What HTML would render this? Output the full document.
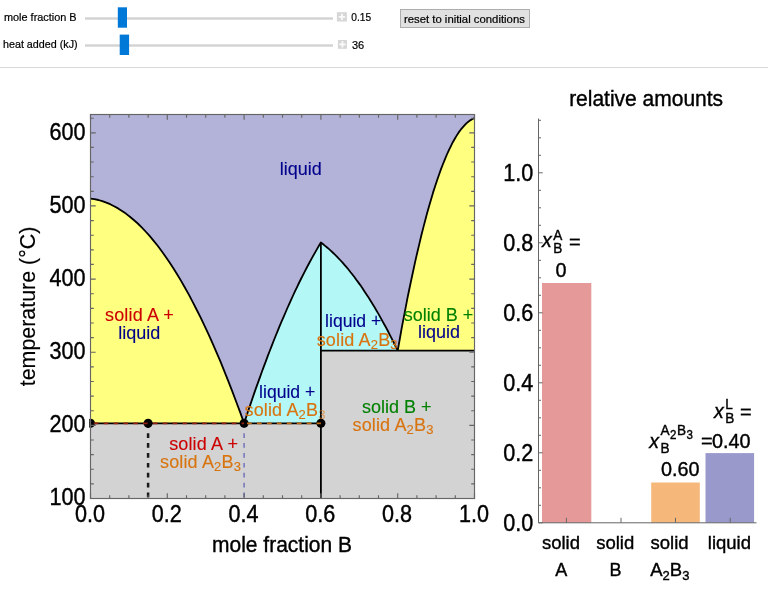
<!DOCTYPE html>
<html><head><meta charset="utf-8"><title>phase diagram</title>
<style>
html,body{margin:0;padding:0;background:#fff;}
body{width:768px;height:589px;position:relative;overflow:hidden;font-family:"Liberation Sans",sans-serif;}
.lbl{position:absolute;font-size:10.9px;color:#000;white-space:nowrap;line-height:12px;transform:scaleY(1.08);transform-origin:0 9.5px;-webkit-text-stroke:.2px #000;}
.track{position:absolute;height:3px;background:linear-gradient(#e9e9e9,#d2d2d2 45%,#d2d2d2 55%,#e9e9e9);left:84.5px;width:248px;}
.plus{position:absolute;width:9px;height:9px;background:#d9d9d9;left:337.5px;}
.plus:before{content:"";position:absolute;left:3.7px;top:1.5px;width:1.6px;height:6px;background:#fff;opacity:.9;}
.plus:after{content:"";position:absolute;left:1.5px;top:3.7px;width:6px;height:1.6px;background:#fff;opacity:.9;}
.btn{position:absolute;left:400px;top:9px;width:127.6px;height:16.5px;background:#e1e1e1;border:1px solid #adadad;font-size:11.35px;line-height:18.6px;text-align:center;color:#000;white-space:nowrap;-webkit-text-stroke:.2px #000;}
.sep{position:absolute;left:0;top:67px;width:768px;height:1px;background:#d9d9d9;}
</style></head><body>
<div class="track" style="top:16.8px"></div>
<div class="track" style="top:43.6px"></div>
<div class="btn"></div>
<div class="sep"></div>
<svg width="768" height="589" viewBox="0 0 768 589" style="position:absolute;left:0;top:0" font-family="Liberation Sans, sans-serif">
<style>text{stroke:#000;stroke-width:.38px}.cr,.cb,.co,.cg{stroke-width:.12px}.ui{stroke-width:.2px}.cr{fill:#c00;stroke:#c00}.cb{fill:#00008c;stroke:#00008c}.co{fill:#d9730d;stroke:#d9730d}.cg{fill:#008000;stroke:#008000}</style>
<rect x="90.5" y="114.5" width="384.0" height="384.0" fill="#b3b3d9"/>
<polygon fill="#ffff80" points="90.5,198.6 94.4,199.2 98.4,200.0 102.3,201.2 106.3,202.6 110.2,204.2 114.1,206.2 118.1,208.4 122.0,210.9 125.9,213.6 129.9,216.7 133.8,220.0 137.8,223.5 141.7,227.4 145.6,231.5 149.6,235.9 153.5,240.6 157.5,245.5 161.4,250.7 165.3,256.2 169.3,262.0 173.2,268.0 177.1,274.3 181.1,280.9 185.0,287.8 189.0,294.9 192.9,302.3 196.8,310.0 200.8,317.9 204.7,326.1 208.7,334.6 212.6,343.4 216.5,352.4 220.5,361.7 224.4,371.3 228.3,381.2 232.3,391.3 236.2,401.7 240.2,412.4 244.1,423.3 90.5,423.3"/>
<polygon fill="#b3f7f7" points="244.1,423.3 246.1,417.3 248.0,411.4 250.0,405.6 252.0,399.8 253.9,394.1 255.9,388.4 257.9,382.9 259.9,377.4 261.8,372.0 263.8,366.6 265.8,361.4 267.7,356.1 269.7,351.0 271.7,345.9 273.6,341.0 275.6,336.0 277.6,331.2 279.5,326.4 281.5,321.7 283.5,317.1 285.5,312.5 287.4,308.0 289.4,303.6 291.4,299.2 293.3,295.0 295.3,290.7 297.3,286.6 299.2,282.5 301.2,278.5 303.2,274.6 305.1,270.8 307.1,267.0 309.1,263.3 311.1,259.6 313.0,256.1 315.0,252.6 317.0,249.1 318.9,245.8 320.9,242.5 320.9,242.5 322.9,244.0 324.8,245.6 326.8,247.2 328.8,248.9 330.7,250.6 332.7,252.5 334.7,254.4 336.7,256.3 338.6,258.4 340.6,260.5 342.6,262.6 344.5,264.9 346.5,267.2 348.5,269.5 350.4,272.0 352.4,274.5 354.4,277.0 356.3,279.7 358.3,282.4 360.3,285.1 362.3,288.0 364.2,290.9 366.2,293.9 368.2,296.9 370.1,300.0 372.1,303.2 374.1,306.4 376.0,309.7 378.0,313.1 380.0,316.6 381.9,320.1 383.9,323.7 385.9,327.3 387.9,331.0 389.8,334.8 391.8,338.7 393.8,342.6 395.7,346.6 397.7,350.6 320.9,350.6 320.9,423.3"/>
<polygon fill="#ffff80" points="397.7,350.6 399.7,339.5 401.6,328.7 403.6,318.2 405.6,307.9 407.5,297.9 409.5,288.2 411.5,278.7 413.5,269.5 415.4,260.6 417.4,252.0 419.4,243.6 421.3,235.5 423.3,227.6 425.3,220.0 427.2,212.7 429.2,205.7 431.2,198.9 433.1,192.4 435.1,186.2 437.1,180.2 439.1,174.5 441.0,169.1 443.0,164.0 445.0,159.1 446.9,154.5 448.9,150.1 450.9,146.1 452.8,142.2 454.8,138.7 456.8,135.4 458.7,132.4 460.7,129.7 462.7,127.3 464.7,125.1 466.6,123.1 468.6,121.5 470.6,120.1 472.5,119.0 474.5,118.2 474.5,350.6"/>
<polygon fill="#d3d3d3" points="90.5,423.3 320.9,423.3 320.9,350.6 474.5,350.6 474.5,498.5 90.5,498.5"/>
<g fill="none" stroke="#000" stroke-width="1.8" stroke-linejoin="round">
<polyline points="90.5,198.6 94.4,199.2 98.4,200.0 102.3,201.2 106.3,202.6 110.2,204.2 114.1,206.2 118.1,208.4 122.0,210.9 125.9,213.6 129.9,216.7 133.8,220.0 137.8,223.5 141.7,227.4 145.6,231.5 149.6,235.9 153.5,240.6 157.5,245.5 161.4,250.7 165.3,256.2 169.3,262.0 173.2,268.0 177.1,274.3 181.1,280.9 185.0,287.8 189.0,294.9 192.9,302.3 196.8,310.0 200.8,317.9 204.7,326.1 208.7,334.6 212.6,343.4 216.5,352.4 220.5,361.7 224.4,371.3 228.3,381.2 232.3,391.3 236.2,401.7 240.2,412.4 244.1,423.3"/>
<polyline points="244.1,423.3 246.1,417.3 248.0,411.4 250.0,405.6 252.0,399.8 253.9,394.1 255.9,388.4 257.9,382.9 259.9,377.4 261.8,372.0 263.8,366.6 265.8,361.4 267.7,356.1 269.7,351.0 271.7,345.9 273.6,341.0 275.6,336.0 277.6,331.2 279.5,326.4 281.5,321.7 283.5,317.1 285.5,312.5 287.4,308.0 289.4,303.6 291.4,299.2 293.3,295.0 295.3,290.7 297.3,286.6 299.2,282.5 301.2,278.5 303.2,274.6 305.1,270.8 307.1,267.0 309.1,263.3 311.1,259.6 313.0,256.1 315.0,252.6 317.0,249.1 318.9,245.8 320.9,242.5 320.9,242.5 322.9,244.0 324.8,245.6 326.8,247.2 328.8,248.9 330.7,250.6 332.7,252.5 334.7,254.4 336.7,256.3 338.6,258.4 340.6,260.5 342.6,262.6 344.5,264.9 346.5,267.2 348.5,269.5 350.4,272.0 352.4,274.5 354.4,277.0 356.3,279.7 358.3,282.4 360.3,285.1 362.3,288.0 364.2,290.9 366.2,293.9 368.2,296.9 370.1,300.0 372.1,303.2 374.1,306.4 376.0,309.7 378.0,313.1 380.0,316.6 381.9,320.1 383.9,323.7 385.9,327.3 387.9,331.0 389.8,334.8 391.8,338.7 393.8,342.6 395.7,346.6 397.7,350.6"/>
<polyline points="397.7,350.6 399.7,339.5 401.6,328.7 403.6,318.2 405.6,307.9 407.5,297.9 409.5,288.2 411.5,278.7 413.5,269.5 415.4,260.6 417.4,252.0 419.4,243.6 421.3,235.5 423.3,227.6 425.3,220.0 427.2,212.7 429.2,205.7 431.2,198.9 433.1,192.4 435.1,186.2 437.1,180.2 439.1,174.5 441.0,169.1 443.0,164.0 445.0,159.1 446.9,154.5 448.9,150.1 450.9,146.1 452.8,142.2 454.8,138.7 456.8,135.4 458.7,132.4 460.7,129.7 462.7,127.3 464.7,125.1 466.6,123.1 468.6,121.5 470.6,120.1 472.5,119.0 474.5,118.2"/>
<line x1="320.9" y1="242.5" x2="320.9" y2="498.5"/>
<line x1="320.9" y1="350.6" x2="474.5" y2="350.6"/>
<line x1="90.5" y1="423.3" x2="320.9" y2="423.3"/>
</g>
<line x1="148.1" y1="423.3" x2="148.1" y2="498.5" stroke="#1a1a1a" stroke-width="2.5" stroke-dasharray="4.7 5.2"/>
<line x1="244.1" y1="423.3" x2="244.1" y2="498.5" stroke="#7878c0" stroke-width="1.6" stroke-dasharray="4.7 5.2"/>
<clipPath id="pc"><rect x="89.2" y="114.5" width="386.6" height="384.0"/></clipPath>
<circle clip-path="url(#pc)" cx="90.5" cy="423.3" r="4.5" fill="#000"/>
<circle clip-path="url(#pc)" cx="148.1" cy="423.3" r="4.5" fill="#000"/>
<circle clip-path="url(#pc)" cx="244.1" cy="423.3" r="4.5" fill="#000"/>
<circle clip-path="url(#pc)" cx="320.9" cy="423.3" r="4.5" fill="#000"/>
<line x1="90.5" y1="423.3" x2="244.1" y2="423.3" stroke="#94200f" stroke-width="1.7" stroke-dasharray="4.6 5.25" stroke-dashoffset="-3.3"/>
<line x1="244.1" y1="423.3" x2="320.9" y2="423.3" stroke="#c46a12" stroke-width="1.7" stroke-dasharray="4.8 5.15" stroke-dashoffset="-2.9"/>
<text transform="translate(300.7,174.8)" class="cb" font-size="18" letter-spacing="0" text-anchor="middle">liquid</text>
<text transform="translate(139.5,321)" class="cr" font-size="18" letter-spacing="0.15" text-anchor="middle">solid A +</text>
<text transform="translate(139.3,338.7)" class="cb" font-size="18" letter-spacing="0" text-anchor="middle">liquid</text>
<text transform="translate(353.2,326.7)" class="cb" font-size="17.6" letter-spacing="0" text-anchor="middle">liquid +</text>
<text transform="translate(357.2,345.6)" class="co" font-size="18" letter-spacing="0.15" text-anchor="middle">solid A<tspan font-size="13" dy="3.1">2</tspan><tspan dy="-3.1">B</tspan><tspan font-size="13" dy="3.1">3</tspan></text>
<text transform="translate(438.5,321.2)" class="cg" font-size="18" letter-spacing="0" text-anchor="middle">solid B +</text>
<text transform="translate(439,338.3)" class="cb" font-size="18" letter-spacing="0" text-anchor="middle">liquid</text>
<text transform="translate(287.2,397.5)" class="cb" font-size="17.6" letter-spacing="0" text-anchor="middle">liquid +</text>
<text transform="translate(285,415.6)" class="co" font-size="18" letter-spacing="0.15" text-anchor="middle">solid A<tspan font-size="13" dy="3.1">2</tspan><tspan dy="-3.1">B</tspan><tspan font-size="13" dy="3.1" opacity="0.55">3</tspan></text>
<text transform="translate(396.7,412.7)" class="cg" font-size="18" letter-spacing="0" text-anchor="middle">solid B +</text>
<text transform="translate(393,430.6)" class="co" font-size="18" letter-spacing="0.15" text-anchor="middle">solid A<tspan font-size="13" dy="3.1">2</tspan><tspan dy="-3.1">B</tspan><tspan font-size="13" dy="3.1">3</tspan></text>
<text transform="translate(203.6,449.6)" class="cr" font-size="18" letter-spacing="0.15" text-anchor="middle">solid A +</text>
<text transform="translate(200.5,468.2)" class="co" font-size="18" letter-spacing="0.15" text-anchor="middle">solid A<tspan font-size="13" dy="3.1">2</tspan><tspan dy="-3.1">B</tspan><tspan font-size="13" dy="3.1">3</tspan></text>
<rect x="90.5" y="114.5" width="384.0" height="384.0" fill="none" stroke="#666" stroke-width="1.15"/>
<path d="M90.5,498.5v-5.2M90.5,114.5v5.2M109.7,498.5v-3.3M109.7,114.5v3.3M128.9,498.5v-3.3M128.9,114.5v3.3M148.1,498.5v-3.3M148.1,114.5v3.3M167.3,498.5v-5.2M167.3,114.5v5.2M186.5,498.5v-3.3M186.5,114.5v3.3M205.7,498.5v-3.3M205.7,114.5v3.3M224.9,498.5v-3.3M224.9,114.5v3.3M244.1,498.5v-5.2M244.1,114.5v5.2M263.3,498.5v-3.3M263.3,114.5v3.3M282.5,498.5v-3.3M282.5,114.5v3.3M301.7,498.5v-3.3M301.7,114.5v3.3M320.9,498.5v-5.2M320.9,114.5v5.2M340.1,498.5v-3.3M340.1,114.5v3.3M359.3,498.5v-3.3M359.3,114.5v3.3M378.5,498.5v-3.3M378.5,114.5v3.3M397.7,498.5v-5.2M397.7,114.5v5.2M416.9,498.5v-3.3M416.9,114.5v3.3M436.1,498.5v-3.3M436.1,114.5v3.3M455.3,498.5v-3.3M455.3,114.5v3.3M474.5,498.5v-5.2M474.5,114.5v5.2M90.5,498.5h5.2M474.5,498.5h-5.2M90.5,483.9h3.3M474.5,483.9h-3.3M90.5,469.2h3.3M474.5,469.2h-3.3M90.5,454.6h3.3M474.5,454.6h-3.3M90.5,440.0h3.3M474.5,440.0h-3.3M90.5,425.4h5.2M474.5,425.4h-5.2M90.5,410.7h3.3M474.5,410.7h-3.3M90.5,396.1h3.3M474.5,396.1h-3.3M90.5,381.5h3.3M474.5,381.5h-3.3M90.5,366.8h3.3M474.5,366.8h-3.3M90.5,352.2h5.2M474.5,352.2h-5.2M90.5,337.6h3.3M474.5,337.6h-3.3M90.5,323.0h3.3M474.5,323.0h-3.3M90.5,308.3h3.3M474.5,308.3h-3.3M90.5,293.7h3.3M474.5,293.7h-3.3M90.5,279.1h5.2M474.5,279.1h-5.2M90.5,264.4h3.3M474.5,264.4h-3.3M90.5,249.8h3.3M474.5,249.8h-3.3M90.5,235.2h3.3M474.5,235.2h-3.3M90.5,220.6h3.3M474.5,220.6h-3.3M90.5,205.9h5.2M474.5,205.9h-5.2M90.5,191.3h3.3M474.5,191.3h-3.3M90.5,176.7h3.3M474.5,176.7h-3.3M90.5,162.0h3.3M474.5,162.0h-3.3M90.5,147.4h3.3M474.5,147.4h-3.3M90.5,132.8h5.2M474.5,132.8h-5.2M90.5,118.2h3.3M474.5,118.2h-3.3" stroke="#666" stroke-width="1.15" fill="none"/>
<text transform="translate(85.6,505.2) scale(1,1.08)" font-size="21.6" text-anchor="end" >100</text>
<text transform="translate(85.6,432.1) scale(1,1.08)" font-size="21.6" text-anchor="end" >200</text>
<text transform="translate(85.6,358.9) scale(1,1.08)" font-size="21.6" text-anchor="end" >300</text>
<text transform="translate(85.6,285.8) scale(1,1.08)" font-size="21.6" text-anchor="end" >400</text>
<text transform="translate(85.6,212.6) scale(1,1.08)" font-size="21.6" text-anchor="end" >500</text>
<text transform="translate(85.6,139.5) scale(1,1.08)" font-size="21.6" text-anchor="end" >600</text>
<text transform="translate(89.9,521.5) scale(1,1.08)" font-size="21.6" text-anchor="middle" >0.0</text>
<text transform="translate(166.7,521.5) scale(1,1.08)" font-size="21.6" text-anchor="middle" >0.2</text>
<text transform="translate(243.5,521.5) scale(1,1.08)" font-size="21.6" text-anchor="middle" >0.4</text>
<text transform="translate(320.3,521.5) scale(1,1.08)" font-size="21.6" text-anchor="middle" >0.6</text>
<text transform="translate(397.1,521.5) scale(1,1.08)" font-size="21.6" text-anchor="middle" >0.8</text>
<text transform="translate(473.9,521.5) scale(1,1.08)" font-size="21.6" text-anchor="middle" >1.0</text>
<text transform="translate(282,552.4) scale(1,1.05)" font-size="21" text-anchor="middle" >mole fraction B</text>
<text transform="translate(34.8,306.5) rotate(-90) scale(1,1.05)" font-size="21.4" text-anchor="middle" style="stroke-width:.15px">temperature (°C)</text>
<rect x="542" y="283.0" width="49.3" height="239.8" fill="#e59999"/>
<rect x="651.2" y="482.5" width="48.6" height="40.2" fill="#f5b87a"/>
<rect x="705.5" y="453.1" width="48.6" height="69.6" fill="#9999cc"/>
<path d="M538.5,118.5V522.8H756.5M538.5,522.8h4.2M538.5,505.3h2.5M538.5,487.8h2.5M538.5,470.3h2.5M538.5,452.8h4.2M538.5,435.3h2.5M538.5,417.8h2.5M538.5,400.3h2.5M538.5,382.8h4.2M538.5,365.3h2.5M538.5,347.8h2.5M538.5,330.3h2.5M538.5,312.8h4.2M538.5,295.3h2.5M538.5,277.8h2.5M538.5,260.3h2.5M538.5,242.8h4.2M538.5,225.3h2.5M538.5,207.8h2.5M538.5,190.3h2.5M538.5,172.8h4.2M538.5,155.3h2.5M538.5,137.8h2.5M538.5,120.3h2.5M566.4,522.8v-5M621,522.8v-5M675.5,522.8v-5M730.2,522.8v-5" stroke="#666" stroke-width="1" fill="none"/>
<text transform="translate(533.3,530.6) scale(1,1.08)" font-size="21.6" text-anchor="end" >0.0</text>
<text transform="translate(533.3,460.6) scale(1,1.08)" font-size="21.6" text-anchor="end" >0.2</text>
<text transform="translate(533.3,390.6) scale(1,1.08)" font-size="21.6" text-anchor="end" >0.4</text>
<text transform="translate(533.3,320.6) scale(1,1.08)" font-size="21.6" text-anchor="end" >0.6</text>
<text transform="translate(533.3,250.6) scale(1,1.08)" font-size="21.6" text-anchor="end" >0.8</text>
<text transform="translate(533.3,180.6) scale(1,1.08)" font-size="21.6" text-anchor="end" >1.0</text>
<text transform="translate(646.1,105.6) scale(1,1.05)" font-size="21" text-anchor="middle" >relative amounts</text>
<text x="561.0" y="549.2" font-size="18.5" text-anchor="middle">solid</text>
<text x="561.3" y="575.5" font-size="18" text-anchor="middle">A</text>
<text x="615.2" y="549.2" font-size="18.5" text-anchor="middle">solid</text>
<text x="615.5" y="575.5" font-size="18" text-anchor="middle">B</text>
<text x="669.6" y="549.2" font-size="18.5" text-anchor="middle">solid</text>
<text x="729.4" y="549.2" font-size="18.5" text-anchor="middle">liquid</text>
<text x="669.8" y="575.5" font-size="18.5" text-anchor="middle">A<tspan font-size="13" dy="4.5">2</tspan><tspan dy="-4.5">B</tspan><tspan font-size="13" dy="4.5">3</tspan></text>
<text transform="translate(542,247.4) scale(1,1.0)" font-size="19.5" text-anchor="start" font-style="italic">x</text>
<text transform="translate(553.3,252.8) scale(1,1.06)" font-size="13.6" text-anchor="start" >B</text>
<text transform="translate(553.3,239.9) scale(1,1.06)" font-size="13.6" text-anchor="start" >A</text>
<text transform="translate(569,248.5) scale(1,1.0)" font-size="20" text-anchor="start" >=</text>
<text transform="translate(560.9,277.4) scale(1,1.05)" font-size="19.8" text-anchor="middle" >0</text>
<text transform="translate(649.2,447.8) scale(1,1.0)" font-size="19.5" text-anchor="start" font-style="italic">x</text>
<text transform="translate(660.5,453.2) scale(1,1.06)" font-size="13.6" text-anchor="start" >B</text>
<text transform="translate(660.5,435.0) scale(1,1.06)" font-size="13.6" text-anchor="start" ><tspan letter-spacing="0.5">A<tspan font-size="11.5" dy="4.2">2</tspan><tspan dy="-4.2">B</tspan><tspan font-size="11.5" dy="4.2">3</tspan></tspan></text>
<text transform="translate(701,448.4) scale(1,1.0)" font-size="20" text-anchor="start" >=</text>
<text transform="translate(680.3,476) scale(1,1.05)" font-size="19.8" text-anchor="middle" >0.60</text>
<text transform="translate(714,417.9) scale(1,1.0)" font-size="19.5" text-anchor="start" font-style="italic">x</text>
<text transform="translate(725.3,423.29999999999995) scale(1,1.06)" font-size="13.6" text-anchor="start" >B</text>
<text transform="translate(725.3,409.29999999999995) scale(1,1.06)" font-size="13.6" text-anchor="start" >L</text>
<text transform="translate(740,419) scale(1,1.0)" font-size="20" text-anchor="start" >=</text>
<text transform="translate(731.3,447.6) scale(1,1.05)" font-size="19.8" text-anchor="middle" >0.40</text>
<rect x="117.8" y="7.3" width="9.2" height="20.4" fill="#0078d7"/><rect x="119.7" y="34.6" width="9.4" height="20.4" fill="#0078d7"/>
<text transform="translate(4,20.6) scale(1,1.08)" font-size="10.9" text-anchor="start" class="ui">mole fraction B</text>
<text transform="translate(3,48.3) scale(1,1.08)" font-size="10.75" text-anchor="start" class="ui">heat added (kJ)</text>
<text transform="translate(351.3,20.7) scale(1,1.0)" font-size="10.2" text-anchor="start" class="ui">0.15</text>
<text transform="translate(352,48.7) scale(1,1.0)" font-size="11" text-anchor="start" class="ui">36</text>
<text transform="translate(464.4,22.9) scale(1,1.04)" font-size="11.35" text-anchor="middle" class="ui">reset to initial conditions</text>
<rect x="336.9" y="12.2" width="10" height="9.3" fill="#d6d6d6"/><path d="M338.70,16.85h6.4M341.90,13.65v6.4" stroke="#fafafa" stroke-width="1.9" fill="none"/>
<rect x="337.9" y="40" width="9" height="8.8" fill="#d6d6d6"/><path d="M339.20,44.40h6.4M342.40,41.20v6.4" stroke="#fafafa" stroke-width="1.9" fill="none"/>
</svg>
</body></html>
